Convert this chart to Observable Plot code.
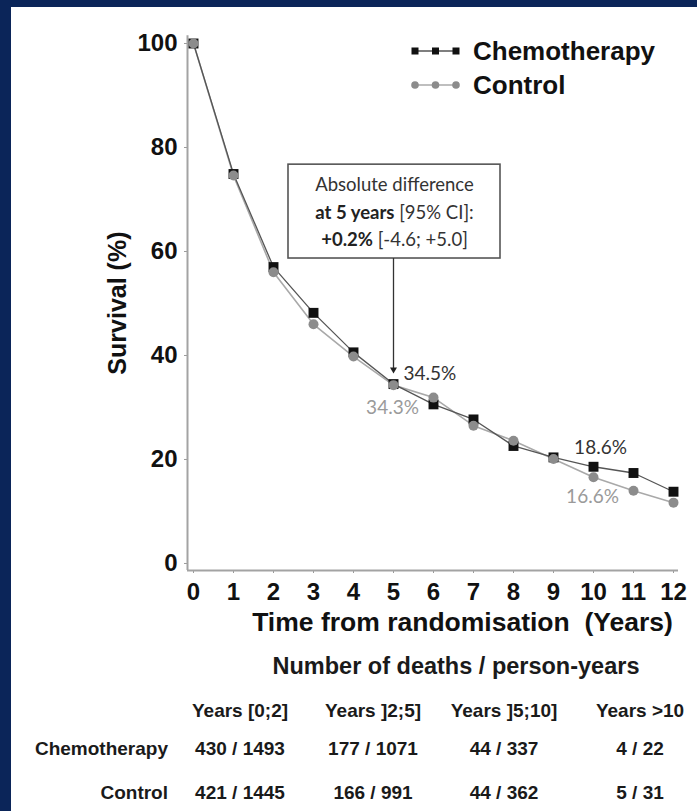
<!DOCTYPE html>
<html>
<head>
<meta charset="utf-8">
<script src="https://cdn.jsdelivr.net/npm/d3@7"></script>
<script src="https://cdn.jsdelivr.net/npm/@observablehq/plot@0.6"></script>
<style>
  html, body { margin: 0; padding: 0; }
  body { width: 697px; height: 811px; background: #0b2559; position: relative; overflow: hidden;
         font-family: "Liberation Sans", Arial, sans-serif; }
  #panel { position: absolute; left: 11px; top: 7px; right: 0; bottom: 0; background: #fff; }
  #chart { position: absolute; left: 0; top: 0; }
  #chart svg text { white-space: pre; }
  #legend { position: absolute; left: 409px; top: 34px; }
  .leg-row { display: flex; align-items: center; height: 34px; font-weight: bold; font-size: 26px; color: #111; }
  .leg-row svg { margin-right: 12px; }
  .t { position: absolute; font-weight: bold; color: #1a1a1a; white-space: pre; font-size: 19px; line-height: 1.15; }
  .c { transform: translate(-50%, -50%); }
  .r { transform: translate(-100%, -50%); }
</style>
</head>
<body>
<div id="panel"></div>
<div id="chart"></div>
<div id="legend"></div>
<div id="table"></div>
<script>
// ---------- data ----------
const years = [0, 1, 2, 3, 4, 5, 6, 7, 8, 9, 10, 11, 12];
const chemotherapy = [100, 74.9, 57.0, 48.2, 40.6, 34.5, 30.6, 27.7, 22.6, 20.4, 18.6, 17.4, 13.8];
const control = [100, 74.6, 56.0, 46.0, 39.8, 34.3, 31.9, 26.5, 23.6, 20.1, 16.6, 14.0, 11.7];
const seriesNames = ["Chemotherapy", "Control"];
const yTicks = [0, 20, 40, 60, 80, 100];
const yTitle = "Survival (%)";
const xTitle = "Time from randomisation  (Years)";
const pointLabels = [
  {series: "Chemotherapy", year: 5, value: 34.5, text: "34.5%"},
  {series: "Control", year: 5, value: 34.3, text: "34.3%"},
  {series: "Chemotherapy", year: 10, value: 18.6, text: "18.6%"},
  {series: "Control", year: 10, value: 16.6, text: "16.6%"}
];
const annoLines = [
  {bold: "", regular: "Absolute difference"},
  {bold: "at 5 years", regular: " [95% CI]:"},
  {bold: "+0.2%", regular: " [-4.6; +5.0]"}
];
const tableTitle = "Number of deaths / person-years";
const periods = ["Years [0;2]", "Years ]2;5]", "Years ]5;10]", "Years >10"];
const chemoDeaths = [430, 177, 44, 4];
const chemoPersonYears = [1493, 1071, 337, 22];
const controlDeaths = [421, 166, 44, 5];
const controlPersonYears = [1445, 991, 362, 31];

// ---------- derived tables ----------
const chemoRows = years.map((t, i) => ({series: "Chemotherapy", year: t, value: chemotherapy[i]}));
const controlRows = years.map((t, i) => ({series: "Control", year: t, value: control[i]}));

// ---------- layout constants ----------
const xDomain = [-0.15, 12.125];
const yDomain = [-1.35, 101.5];
const box = {x1: 2.375, x2: 7.675, y1: 58.65, y2: 76.7};
const annoX = 5.025;
const annoY = [72.7, 67.3, 62.1];
const arrowX = 5;
const arrowTip = 37.3;

const CHEMO = "#111111", CTRL = "#8c8c8c";
const labelFont = "Lato, 'Open Sans', sans-serif";

const lab = (s, y) => pointLabels.filter(d => d.series === s && d.year === y);

const plot = Plot.plot({
  width: 697,
  height: 650,
  marginLeft: 187,
  marginRight: 19,
  marginTop: 35.2,
  marginBottom: 80,
  x: {domain: xDomain},
  y: {domain: yDomain},
  style: {background: "transparent", fontFamily: "'Liberation Sans', Arial, sans-serif", color: "#111", overflow: "visible"},
  marks: [
    Plot.axisY({ticks: yTicks, tickSize: 3, tickPadding: 7, stroke: "#9a9a9a", fill: "#111",
      fontSize: 24, fontWeight: "bold", label: null}),
    Plot.axisX({ticks: years, tickSize: 3, tickPadding: 9, stroke: "#9a9a9a", fill: "#111",
      fontSize: 24, fontWeight: "bold", label: null, tickFormat: d => String(d)}),
    Plot.ruleX([xDomain[0]], {stroke: "#a3a3a3", strokeWidth: 2}),
    Plot.ruleY([yDomain[0]], {stroke: "#a3a3a3", strokeWidth: 2}),
    Plot.text([yTitle], {text: d => d, frameAnchor: "left", textAnchor: "middle", rotate: -90, dx: -70,
      fontSize: 25, fontWeight: "bold", fill: "#111"}),
    Plot.text([xTitle], {text: d => d, frameAnchor: "bottom", textAnchor: "middle", dx: 29.5, dy: 60,
      fontSize: 26.5, fontWeight: "bold", fill: "#111"}),
    // annotation box + arrow
    Plot.rect([box], {x1: "x1", x2: "x2", y1: "y1", y2: "y2", fill: "white", stroke: "#555", strokeWidth: 1.6}),
    Plot.ruleX([arrowX], {y1: box.y1, y2: arrowTip, stroke: "#333", strokeWidth: 1.3}),
    Plot.dot([arrowX], {x: d => d, y: arrowTip, symbol: "triangle", rotate: 180, r: 2.6, fill: "#222", stroke: "none"}),
    Plot.text(annoLines, {x: () => annoX, y: (d, i) => annoY[i], text: d => d.bold + d.regular,
      fontSize: 18.5, fontFamily: labelFont, fill: "#333"}),
    // series
    Plot.line(controlRows, {x: "year", y: "value", stroke: "#a9a9a9", strokeWidth: 1.6}),
    Plot.line(chemoRows, {x: "year", y: "value", stroke: "#555", strokeWidth: 1.3}),
    Plot.dot(chemoRows, {x: "year", y: "value", symbol: "square", r: 5.6, fill: CHEMO, stroke: "none"}),
    Plot.dot(controlRows, {x: "year", y: "value", symbol: "circle", r: 5, fill: CTRL, stroke: "none"}),
    // point labels
    Plot.text(lab("Chemotherapy", 5), {x: "year", y: "value", text: "text", textAnchor: "start", dx: 10, dy: -10,
      fontSize: 19, fontFamily: labelFont, fill: "#333"}),
    Plot.text(lab("Control", 5), {x: "year", y: "value", text: "text", dx: -1, dy: 23,
      fontSize: 19, fontFamily: labelFont, fill: "#9a9a9a"}),
    Plot.text(lab("Chemotherapy", 10), {x: "year", y: "value", text: "text", dx: 7, dy: -19,
      fontSize: 19, fontFamily: labelFont, fill: "#333"}),
    Plot.text(lab("Control", 10), {x: "year", y: "value", text: "text", dx: -1, dy: 20,
      fontSize: 19, fontFamily: labelFont, fill: "#9a9a9a"})
  ]
});

// mixed-weight annotation lines
const NS = "http://www.w3.org/2000/svg";
plot.querySelectorAll("text").forEach(el => {
  const d = annoLines.find(a => a.bold && (a.bold + a.regular) === el.textContent);
  if (!d) return;
  el.textContent = "";
  const b = document.createElementNS(NS, "tspan");
  b.setAttribute("font-weight", "bold");
  b.setAttribute("fill", "#222");
  b.textContent = d.bold;
  const r = document.createElementNS(NS, "tspan");
  r.textContent = d.regular;
  el.appendChild(b);
  el.appendChild(r);
});
document.getElementById("chart").appendChild(plot);

// ---------- legend ----------
const legend = document.getElementById("legend");
seriesNames.forEach((name, k) => {
  const row = document.createElement("div");
  row.className = "leg-row";
  const s = document.createElementNS(NS, "svg");
  s.setAttribute("width", "52"); s.setAttribute("height", "12");
  const line = document.createElementNS(NS, "line");
  line.setAttribute("x1", "6"); line.setAttribute("x2", "47");
  line.setAttribute("y1", "6"); line.setAttribute("y2", "6");
  line.setAttribute("stroke", k === 0 ? "#555" : "#aaa"); line.setAttribute("stroke-width", "1.5");
  s.appendChild(line);
  [6, 26.5, 47].forEach(cx => {
    let m;
    if (k === 0) {
      m = document.createElementNS(NS, "rect");
      m.setAttribute("x", cx - 3.5); m.setAttribute("y", 2.5);
      m.setAttribute("width", 7); m.setAttribute("height", 7);
      m.setAttribute("fill", CHEMO);
    } else {
      m = document.createElementNS(NS, "circle");
      m.setAttribute("cx", cx); m.setAttribute("cy", 6); m.setAttribute("r", 3.8);
      m.setAttribute("fill", CTRL);
    }
    s.appendChild(m);
  });
  row.appendChild(s);
  const t = document.createElement("span");
  t.textContent = name;
  row.appendChild(t);
  legend.appendChild(row);
});

// ---------- deaths / person-years table ----------
const table = document.getElementById("table");
const colX = [240, 373, 504, 640];
function put(text, x, y, cls, extra) {
  const el = document.createElement("div");
  el.className = "t " + cls;
  el.style.left = x + "px";
  el.style.top = y + "px";
  if (extra) Object.assign(el.style, extra);
  el.textContent = text;
  table.appendChild(el);
}
put(tableTitle, 456, 667, "c", {fontSize: "23.5px"});
periods.forEach((p, i) => put(p, colX[i], 711, "c"));
put(seriesNames[0], 168, 749, "r");
put(seriesNames[1], 168, 793, "r");
chemoDeaths.forEach((d, i) => put(`${d} / ${chemoPersonYears[i]}`, colX[i], 749, "c"));
controlDeaths.forEach((d, i) => put(`${d} / ${controlPersonYears[i]}`, colX[i], 793, "c"));
</script>
</body>
</html>
